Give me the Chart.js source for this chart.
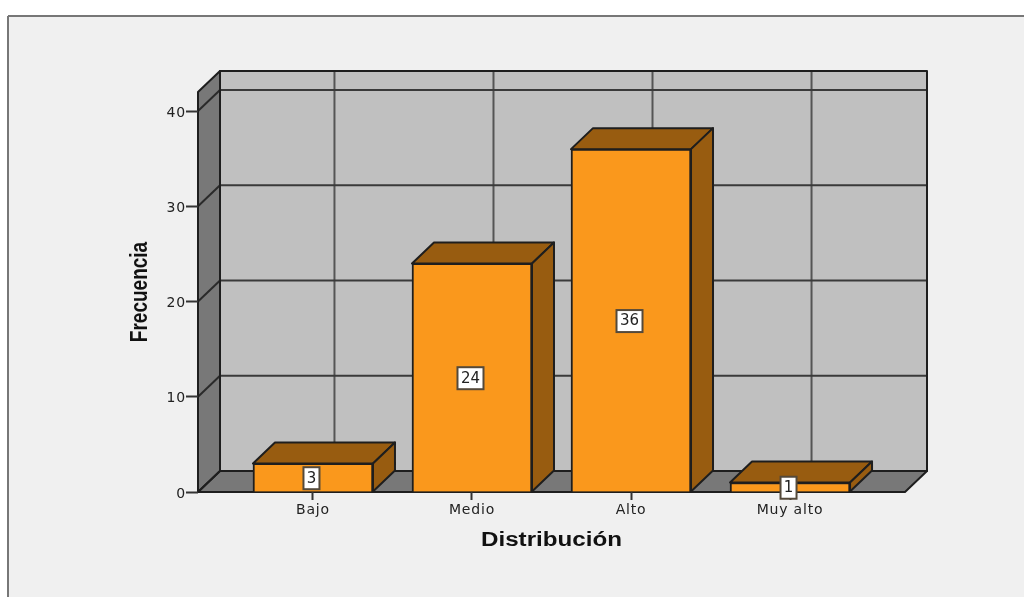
<!DOCTYPE html>
<html>
<head>
<meta charset="utf-8">
<style>
  html, body { margin: 0; padding: 0; background: #fff; }
  canvas { display: block; }
</style>
<script src="https://cdn.jsdelivr.net/npm/chart.js@4"></script>
</head>
<body>
<canvas id="barChart" width="1024" height="597"></canvas>
<script>
const categories = ["Bajo", "Medio", "Alto", "Muy alto"];
const frecuencia = [3, 24, 36, 1];
const yTickValues = [0, 10, 20, 30, 40];

// depth of the fake 3D box, in pixels
const depthX = 22;
const depthY = 21;
const lineDark = "#1e1e1e";
const faceDark = "#985c10";

function poly(ctx, pts, fill, stroke, width) {
    ctx.beginPath();
    pts.forEach((p, i) => (i ? ctx.lineTo(p[0], p[1]) : ctx.moveTo(p[0], p[1])));
    ctx.closePath();
    if (fill) {
        ctx.fillStyle = fill;
        ctx.fill();
    }
    if (stroke) {
        ctx.strokeStyle = stroke;
        ctx.lineWidth = width || 2;
        ctx.lineJoin = "round";
        ctx.stroke();
    }
}

function seg(ctx, x1, y1, x2, y2, color, width) {
    ctx.beginPath();
    ctx.moveTo(x1, y1);
    ctx.lineTo(x2, y2);
    ctx.strokeStyle = color;
    ctx.lineWidth = width;
    ctx.stroke();
}

// the original text is stretched sideways: space out the tick labels,
// and stretch the axis title around a fixed x
function shapeText(scale, labelSpacing, stretchX, centerX) {
    if (scale.shaped) return;
    scale.shaped = true;
    const drawLabels = scale.drawLabels;
    const drawTitle = scale.drawTitle;
    scale.drawLabels = function (area) {
        this.ctx.letterSpacing = labelSpacing;
        drawLabels.call(this, area);
        this.ctx.letterSpacing = "0px";
    };
    scale.drawTitle = function (area) {
        const ctx = this.ctx;
        ctx.save();
        ctx.translate(centerX, 0);
        ctx.scale(stretchX, 1);
        ctx.translate(-centerX, 0);
        drawTitle.call(this, area);
        ctx.restore();
    };
}

// panel background and the room behind the bars
const roomPlugin = {
    id: "room",
    beforeDraw(chart) {
        const ctx = chart.ctx;
        const { left, right, top, bottom } = chart.chartArea;
        const xs = chart.scales.x;
        const ys = chart.scales.y;
        ctx.save();
        ctx.fillStyle = "#ffffff";
        ctx.fillRect(0, 0, chart.width, chart.height);
        ctx.fillStyle = "#f0f0f0";
        ctx.fillRect(8, 16, chart.width - 8, chart.height - 16);
        seg(ctx, 8, 16, chart.width, 16, "#777777", 2);
        seg(ctx, 8, 16, 8, chart.height, "#777777", 2);

        // back wall
        poly(ctx, [[left + depthX, top - depthY], [right + depthX, top - depthY],
                   [right + depthX, bottom - depthY], [left + depthX, bottom - depthY]], "#c0c0c0");
        // vertical lines on the back wall
        categories.forEach((_, i) => {
            const px = xs.getPixelForValue(i) + depthX - 0.5;
            seg(ctx, px, top - depthY, px, bottom - depthY, "#555555", 2);
        });
        // side wall and floor
        poly(ctx, [[left, top], [left + depthX, top - depthY], [left + depthX, bottom - depthY], [left, bottom]], "#787878");
        poly(ctx, [[left, bottom], [left + depthX, bottom - depthY], [right + depthX, bottom - depthY], [right, bottom]], "#787878");
        // horizontal grid, along the side wall then the back wall
        yTickValues.forEach((v) => {
            if (v === 0) return;
            const py = ys.getPixelForValue(v);
            seg(ctx, left, py, left + depthX, py - depthY, "#2a2a2a", 2);
            seg(ctx, left + depthX, py - depthY, right + depthX, py - depthY, "#3a3a3a", 2);
        });
        // outlines
        poly(ctx, [[left + depthX, top - depthY], [right + depthX, top - depthY],
                   [right + depthX, bottom - depthY], [left + depthX, bottom - depthY]], null, lineDark, 2);
        poly(ctx, [[left, top], [left + depthX, top - depthY], [left + depthX, bottom - depthY], [left, bottom]], null, lineDark, 2);
        poly(ctx, [[left, bottom], [left + depthX, bottom - depthY], [right + depthX, bottom - depthY], [right, bottom]], null, lineDark, 2);
        ctx.restore();
    },
    beforeDatasetsDraw(chart) {
        const ctx = chart.ctx;
        ctx.save();
        chart.getDatasetMeta(0).data.forEach((bar) => {
            const l = bar.x - bar.width / 2;
            const r = bar.x + bar.width / 2;
            poly(ctx, [[l, bar.y], [l + depthX, bar.y - depthY], [r + depthX, bar.y - depthY], [r, bar.y]], faceDark, lineDark, 2);
            poly(ctx, [[r, bar.y], [r + depthX, bar.y - depthY], [r + depthX, bar.base - depthY], [r, bar.base]], faceDark, lineDark, 2);
        });
        ctx.restore();
    },
    afterDatasetsDraw(chart) {
        // value boxes sit halfway up each bar
        const ctx = chart.ctx;
        const ys = chart.scales.y;
        ctx.save();
        ctx.font = "15px 'DejaVu Sans'";
        ctx.textAlign = "center";
        ctx.textBaseline = "middle";
        chart.getDatasetMeta(0).data.forEach((bar, i) => {
            const label = String(frecuencia[i]);
            const cx = bar.x - 1.5;
            const cy = ys.getPixelForValue(frecuencia[i] / 2) + 0.5;
            const w = label.length > 1 ? 26 : 16;
            const h = 22;
            ctx.fillStyle = "#ffffff";
            ctx.fillRect(cx - w / 2, cy - h / 2, w, h);
            ctx.strokeStyle = "#54493a";
            ctx.lineWidth = 2;
            ctx.strokeRect(cx - w / 2, cy - h / 2, w, h);
            ctx.fillStyle = "#222222";
            ctx.fillText(label, cx, cy + 0.5);
        });
        ctx.restore();
    },
};

new Chart(document.getElementById("barChart").getContext("2d"), {
    type: "bar",
    data: {
        datasets: [
            {
                label: "Frecuencia",
                data: frecuencia.map((v, i) => ({ x: i, y: v })),
                backgroundColor: "#fa981c",
                borderColor: lineDark,
                borderWidth: 2,
                barThickness: 120,
            },
        ],
    },
    options: {
        responsive: false,
        animation: false,
        layout: { padding: { left: 125, top: 92, right: 119, bottom: 45 } },
        plugins: {
            legend: { display: false },
            tooltip: { enabled: false },
        },
        scales: {
            x: {
                type: "linear",
                offset: false,
                min: -0.723,
                max: 3.723,
                afterBuildTicks: (scale) => {
                    scale.ticks = categories.map((_, i) => ({ value: i }));
                },
                afterFit: (scale) => {
                    scale.height = 60;
                    shapeText(scale, "0.8px", 1.24, 551.5);
                },
                border: { display: false },
                grid: { offset: false, drawOnChartArea: false, tickLength: 8, tickColor: "#333333", tickWidth: 2 },
                ticks: {
                    autoSkip: false,
                    maxRotation: 0,
                    padding: 2,
                    color: "#222222",
                    font: { family: "'DejaVu Sans'", size: 14 },
                    callback: (value) => categories[value],
                },
                title: {
                    display: true,
                    text: "Distribución",
                    color: "#111111",
                    font: { family: "'Liberation Sans'", size: 19.5, weight: "bold" },
                    padding: 0,
                },
            },
            y: {
                min: 0,
                max: 42,
                afterBuildTicks: (scale) => {
                    scale.ticks = yTickValues.map((value) => ({ value }));
                },
                afterFit: (scale) => {
                    scale.width = 73;
                    shapeText(scale, "0.8px", 1.3, 124.5);
                },
                border: { display: false },
                grid: { drawOnChartArea: false, tickLength: 12, tickColor: "#333333", tickWidth: 2 },
                ticks: {
                    padding: 0,
                    labelOffset: 2,
                    color: "#222222",
                    font: { family: "'DejaVu Sans'", size: 14 },
                },
                title: {
                    display: true,
                    text: "Frecuencia",
                    color: "#111111",
                    font: { family: "'Liberation Sans'", size: 19, weight: "bold" },
                    padding: 0,
                },
            },
        },
    },
    plugins: [roomPlugin],
});
</script>
</body>
</html>
